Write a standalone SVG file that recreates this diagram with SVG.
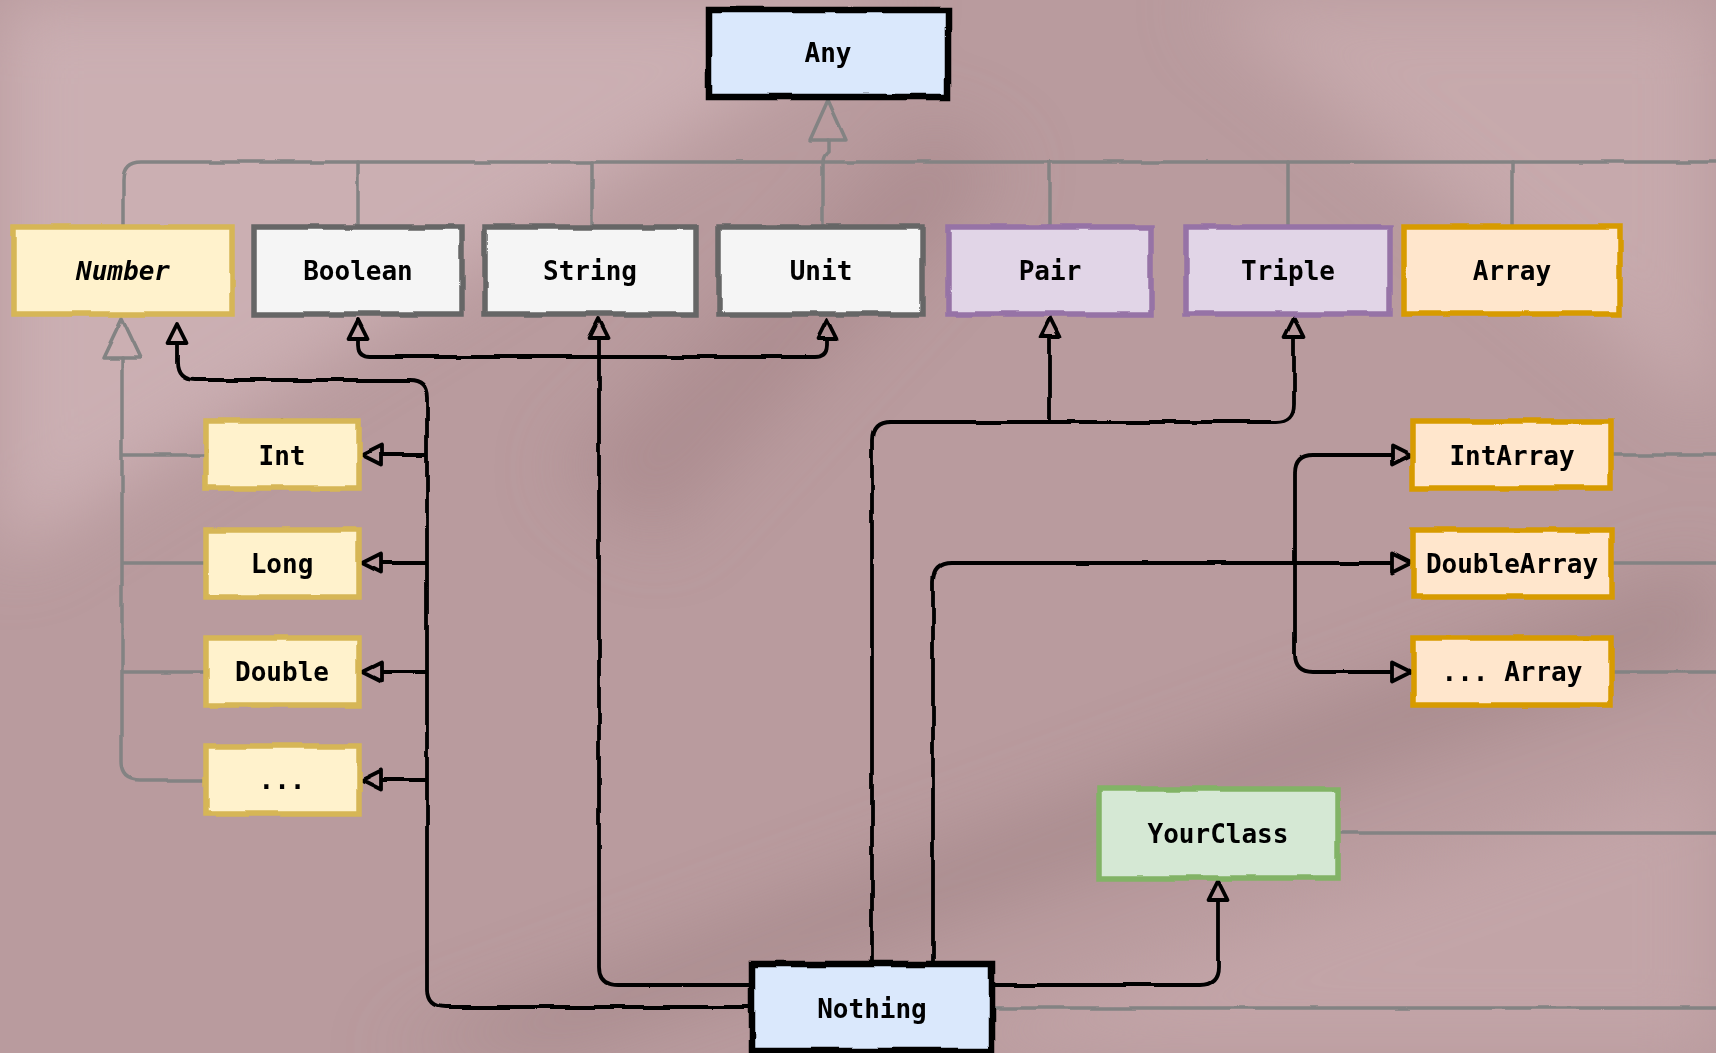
<svg xmlns="http://www.w3.org/2000/svg" width="1716" height="1053" viewBox="0 0 1716 1053">
<defs>
<style>
.box{stroke-width:5.5;filter:url(#rough)}
.lbl{font-family:"DejaVu Sans Mono","Liberation Mono",monospace;font-weight:bold;font-size:26px;fill:#000;text-anchor:middle}
.blk{fill:#dae8fc;stroke:#000;stroke-width:6.5}
.num{fill:#fff2cc;stroke:#d6b656}
.gry{fill:#f5f5f5;stroke:#666}
.pur{fill:#e1d5e7;stroke:#9673a6}
.org{fill:#ffe6cc;stroke:#d79b00}
.grn{fill:#d5e8d4;stroke:#82b366}
.gl{fill:none;stroke:#838383;stroke-width:3.5;stroke-linecap:round;stroke-linejoin:round}
.bl{fill:none;stroke:#000;stroke-width:3.8;stroke-linejoin:round;marker-end:url(#arr)}
</style>
<filter id="rough" filterUnits="userSpaceOnUse" x="0" y="0" width="1716" height="1053">
<feTurbulence type="fractalNoise" baseFrequency="0.03" numOctaves="1" seed="3"/>
<feDisplacementMap in="SourceGraphic" scale="4" xChannelSelector="R" yChannelSelector="G"/>
</filter>
<filter id="bgblur" x="-10%" y="-10%" width="120%" height="120%"><feGaussianBlur stdDeviation="35"/></filter>
<marker id="arr" markerUnits="userSpaceOnUse" viewBox="-3 -13 26 26" refX="0" refY="0" markerWidth="26" markerHeight="26" orient="auto">
<path d="M0,-9.5 L19,0 L0,9.5 Z" fill="none" stroke="#000" stroke-width="3.8" stroke-linejoin="round"/>
</marker>
</defs>
<g id="background">
<rect width="1716" height="1053" fill="#b99b9e"/>
<g filter="url(#bgblur)">
<polygon points="0,0 900,0 0,560" fill="#cbafb2"/>
<polygon points="1200,0 1716,0 1716,420" fill="#c6a9ac"/>
<polygon points="560,470 930,120 1010,170 660,540" fill="#a58689" opacity="0.6"/>
<polygon points="380,1053 1716,560 1716,650 560,1053" fill="#9c7f82" opacity="0.55"/>
<polygon points="900,1053 1716,760 1716,1053" fill="#c2a4a7"/>
</g>
</g>
<g id="connectors">
<g filter="url(#rough)">
<polygon class="gl" points="828,100 810,140 846,140"/>
<path class="gl" d="M828,140 V152 Q823,156 823,162"/>
<path class="gl" d="M123,226 V180 Q123,162 141,162 H1716"/>
<path class="gl" d="M358,162 V227 M592,162 V227 M823,162 V227 M1050,162 V227 M1288,162 V227 M1512,162 V227"/>
<polygon class="gl" points="122,318 103,358 141,358"/>
<path class="gl" d="M122,358 V762 Q122,780 140,780 H206 M122,455 H206 M122,563 H206 M122,672 H206"/>
<path class="gl" d="M1611,455 H1716 M1611,563 H1716 M1611,672 H1716 M1338,833 H1716 M992,1008 H1716"/>
<path class="bl" d="M751,1007 H445 Q427,1007 427,989 V398 Q427,380 409,380 H195 Q177,380 177,362 V343"/>
<path class="bl" d="M427,455 H381"/>
<path class="bl" d="M427,563 H381"/>
<path class="bl" d="M427,672 H381"/>
<path class="bl" d="M427,780 H381"/>
<path class="bl" d="M751,985 H617 Q599,985 599,967 V338"/>
<path class="bl" d="M599,357 H370 Q358,357 358,345 V339"/>
<path class="bl" d="M599,357 H815 Q827,357 827,345 V339"/>
<path class="bl" d="M872,964 V440 Q872,422 890,422 H1276 Q1294,422 1294,404 V337"/>
<path class="bl" d="M1050,422 V337"/>
<path class="bl" d="M933,964 V581 Q933,563 951,563 H1392"/>
<path class="bl" d="M1295,563 V473 Q1295,455 1313,455 H1392"/>
<path class="bl" d="M1295,563 V654 Q1295,672 1313,672 H1392"/>
<path class="bl" d="M992,985 H1200 Q1218,985 1218,967 V900"/>
</g>
<circle cx="282" cy="421" r="2.5" fill="#000"/>
</g>
<g id="node-any"><rect class="box blk" x="709" y="10" width="239" height="87"/><text class="lbl" x="828" y="62">Any</text></g>
<g id="node-number"><rect class="box num" x="14" y="227" width="218" height="87"/><text class="lbl" x="123" y="280" font-style="italic">Number</text></g>
<g id="node-boolean"><rect class="box gry" x="254" y="227" width="208" height="87"/><text class="lbl" x="358" y="280">Boolean</text></g>
<g id="node-string"><rect class="box gry" x="485" y="227" width="211" height="87"/><text class="lbl" x="590" y="280">String</text></g>
<g id="node-unit"><rect class="box gry" x="719" y="227" width="204" height="87"/><text class="lbl" x="821" y="280">Unit</text></g>
<g id="node-pair"><rect class="box pur" x="948" y="227" width="203" height="87"/><text class="lbl" x="1050" y="280">Pair</text></g>
<g id="node-triple"><rect class="box pur" x="1186" y="227" width="204" height="87"/><text class="lbl" x="1288" y="280">Triple</text></g>
<g id="node-array"><rect class="box org" x="1404" y="227" width="216" height="87"/><text class="lbl" x="1512" y="280">Array</text></g>
<g id="node-int"><rect class="box num" x="206" y="421" width="153" height="67"/><text class="lbl" x="282" y="465">Int</text></g>
<g id="node-long"><rect class="box num" x="206" y="530" width="153" height="67"/><text class="lbl" x="282" y="573">Long</text></g>
<g id="node-double"><rect class="box num" x="206" y="638" width="153" height="67"/><text class="lbl" x="282" y="681">Double</text></g>
<g id="node-more"><rect class="box num" x="206" y="746" width="153" height="68"/><text class="lbl" x="282" y="789">...</text></g>
<g id="node-intarray"><rect class="box org" x="1413" y="421" width="198" height="67"/><text class="lbl" x="1512" y="465">IntArray</text></g>
<g id="node-doublearray"><rect class="box org" x="1413" y="530" width="198" height="67"/><text class="lbl" x="1512" y="573">DoubleArray</text></g>
<g id="node-morearray"><rect class="box org" x="1413" y="638" width="198" height="67"/><text class="lbl" x="1512" y="681">... Array</text></g>
<g id="node-yourclass"><rect class="box grn" x="1099" y="789" width="239" height="89"/><text class="lbl" x="1218" y="843">YourClass</text></g>
<g id="node-nothing"><rect class="box blk" x="752" y="964" width="240" height="87"/><text class="lbl" x="872" y="1018">Nothing</text></g>
</svg>
